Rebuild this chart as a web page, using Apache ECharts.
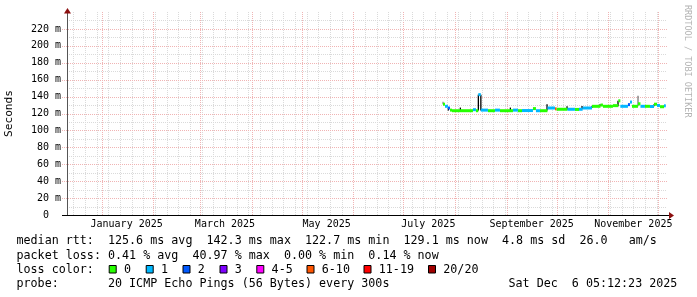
<!DOCTYPE html>
<html><head><meta charset="utf-8">
<script src="https://cdn.jsdelivr.net/npm/echarts@6/dist/echarts.min.js"></script>
<style>html,body{margin:0;padding:0;background:#fff}#c{width:697px;height:297px}</style>
</head><body><div id="c"></div>
<script>
// ---------- data ----------
// median rtt (ms) as steps: start time of each step, value, loss class index
const segStart = [
 '2025-07-24 19:00','2025-07-26 00:00','2025-07-27 19:00','2025-07-29 00:00','2025-07-30 05:00',
 '2025-08-11 19:00','2025-08-13 14:00','2025-08-15 00:00','2025-08-16 12:00','2025-08-20 19:00',
 '2025-08-25 00:00','2025-08-28 00:00','2025-09-04 19:00','2025-09-07 19:00','2025-09-10 05:00',
 '2025-09-16 19:00','2025-09-18 14:00','2025-09-21 00:00','2025-09-25 12:00','2025-09-30 00:00',
 '2025-10-01 00:00','2025-10-07 12:00','2025-10-12 00:00','2025-10-14 10:00','2025-10-16 14:00',
 '2025-10-22 05:00','2025-10-27 07:00','2025-10-28 19:00','2025-11-03 19:00','2025-11-07 00:00',
 '2025-11-08 05:00','2025-11-12 19:00','2025-11-14 00:00','2025-11-15 05:00','2025-11-18 19:00',
 '2025-11-20 07:00','2025-11-23 00:00','2025-11-26 00:00','2025-11-28 10:00','2025-11-30 05:00',
 '2025-12-02 00:00','2025-12-04 10:00'
];
const segEnd = '2025-12-05 12:00';
const segMedian = [
 131, 128.5, 126.5, 124, 123.3,
 124.5, 123.3, 142.3, 124, 123.3,
 124, 123.3, 124, 123.3, 123.5,
 125.8, 123.3, 123.3, 126.5, 125.5,
 125, 125, 124.8, 125, 126.5,
 128.5, 130, 128.5, 129.3, 135,
 128.5, 130.5, 133.5, 128.5, 131.5,
 128.5, 128.5, 128.3, 131, 129.5,
 128, 129.1
];
const segLoss = [
 0,1,2,0,0,
 1,0,1,1,0,
 1,0,1,0,1,
 0,1,0,1,5,
 0,1,0,1,1,
 0,0,0,0,0,
 1,2,1,0,0,
 1,0,1,0,1,
 0,1
];
// smoke (ping spread) spikes
const smokeTime = ['2025-07-24 19:00','2025-07-28 00:00','2025-08-04 05:00','2025-08-15 00:00','2025-08-16 12:00',
 '2025-09-03 05:00','2025-09-25 05:00','2025-10-07 05:00','2025-10-16 05:00','2025-10-22 05:00',
 '2025-10-27 00:00','2025-11-06 19:00','2025-11-18 19:00','2025-11-28 10:00'];
const smokeLow  = [131, 123.5, 123.3, 123.5, 123.5, 123.3, 123.5, 124.5, 125, 126.5, 128.5, 128.5, 128.5, 128.5];
const smokeHigh = [134, 126.5, 127, 142.3, 142.3, 127, 131, 128.5, 129, 129, 131, 135, 141, 131];
const smokeDensity = [0.3, 1, 1, 1, 1, 1, 1, 1, 1, 1, 1, 1, 0.4, 1];

const lossLabels = ['0','1','2','3','4-5','6-10','11-19','20/20'];
const lossColors = ['#26ff00','#00b8ff','#0059ff','#7e00ff','#ff00ff','#ff5500','#ff0000','#a00000'];

const monthLabels = ['January 2025','March 2025','May 2025','July 2025','September 2025','November 2025'];
const monthLabelDates = ['2025-01-01','2025-03-01','2025-05-01','2025-07-01','2025-09-01','2025-11-01'];

const statLines = [
 'median rtt:  125.6 ms avg  142.3 ms max  122.7 ms min  129.1 ms now  4.8 ms sd  26.0   am/s',
 'packet loss: 0.41 % avg  40.97 % max  0.00 % min  0.14 % now',
 'loss color:',
 'probe:       20 ICMP Echo Pings (56 Bytes) every 300s'
];
const stampText = 'Sat Dec  6 05:12:23 2025';
const yAxisTitle = 'Seconds';
const watermark = 'RRDTOOL / TOBI OETIKER';

// ---------- build ----------
const P = s => { const [d, t = '00:00'] = s.split(' '); const [Y, M, D] = d.split('-').map(Number); const [h, m] = t.split(':').map(Number); return Date.UTC(Y, M - 1, D, h, m); };
const DAY = 86400000;
const END = Date.UTC(2025, 11, 6, 5, 12, 23);
const START = END - 360 * DAY;
const YMAX = 240;
const MONO = '"DejaVu Sans Mono", monospace';
const GRID_GREY = '#dadada', GRID_RED = '#f0b4b4', ARROW = '#8c1010';

const gridData = [];
let t = Date.UTC(2024, 11, 15); // first Sunday in range
for (; t < END; t += 7 * DAY) gridData.push([t, 0, 0]);
for (let m = 0; m < 12; m++) gridData.push([Date.UTC(2025, m, 1), 0, 1]);
for (let v = 10; v < YMAX; v += 10) gridData.push([START, v, v % 20 === 0 ? 3 : 2]);

const medData = segStart.map((s, i) => [P(s), P(i + 1 < segStart.length ? segStart[i + 1] : segEnd), segMedian[i], segLoss[i]]);
const smokeData = smokeTime.map((s, i) => [P(s), smokeLow[i], smokeHigh[i], smokeDensity[i]]);
const labelData = monthLabelDates.map((d, i) => [P(d) + 15 * DAY, 0, i]);

const chart = echarts.init(document.getElementById('c'), null, { renderer: 'canvas' });

const graphic = [];
// axis extensions + arrows
graphic.push({ type: 'line', shape: { x1: 62, y1: 215.5, x2: 670, y2: 215.5 }, style: { stroke: '#000', lineWidth: 1 }, z: 50 });
graphic.push({ type: 'polygon', shape: { points: [[669, 212], [674, 215.5], [669, 219]] }, style: { fill: ARROW }, z: 51 });
graphic.push({ type: 'line', shape: { x1: 67.5, y1: 215, x2: 67.5, y2: 12 }, style: { stroke: '#555', lineWidth: 1 }, z: 50 });
graphic.push({ type: 'polygon', shape: { points: [[64, 13.5], [67.5, 8], [71, 13.5]] }, style: { fill: ARROW }, z: 51 });
// watermark
graphic.push({ type: 'text', x: 687, y: 5, rotation: -Math.PI / 2, style: { text: watermark, font: '8.5px ' + MONO, fill: '#b4b4b4', align: 'left', verticalAlign: 'middle' } });
// stats text
const lineY = [241, 255.5, 269.5, 283.5];
statLines.forEach((s, i) => graphic.push({ type: 'text', x: 16.5, y: lineY[i], style: { text: s, font: '11.7px ' + MONO, fill: '#000', verticalAlign: 'middle' } }));
graphic.push({ type: 'text', x: 508.5, y: lineY[3], style: { text: stampText, font: '11.7px ' + MONO, fill: '#000', verticalAlign: 'middle' } });
const boxX = [108.7, 145.7, 182.5, 219.5, 256.3, 306.5, 363.5, 428];
lossLabels.forEach((l, i) => {
  graphic.push({ type: 'rect', shape: { x: boxX[i] + 0.5, y: 265.5, width: 7, height: 7.5 }, style: { fill: lossColors[i], stroke: '#000', lineWidth: 1 } });
  graphic.push({ type: 'text', x: boxX[i] + 15.3, y: lineY[2], style: { text: l, font: '11.7px ' + MONO, fill: '#000', verticalAlign: 'middle' } });
});

chart.setOption({
  animation: false,
  backgroundColor: '#fff',
  grid: { left: 67, right: 30, top: 12, bottom: 82, containLabel: false, outerBoundsMode: 'none' },
  xAxis: { type: 'time', min: START, max: END, axisLine: { show: false }, axisTick: { show: false }, axisLabel: { show: false }, splitLine: { show: false } },
  yAxis: {
    type: 'value', min: 0, max: YMAX, interval: 20,
    name: yAxisTitle, nameLocation: 'middle', nameGap: 52,
    nameTextStyle: { fontFamily: MONO, fontSize: 11.2, color: '#000' },
    axisLine: { show: false }, axisTick: { show: false }, splitLine: { show: false },
    axisLabel: { margin: 6, fontFamily: MONO, fontSize: 10, color: '#000',
      formatter: v => v >= YMAX ? '' : (v === 0 ? '0  ' : v + ' m') }
  },
  graphic: graphic,
  series: [
    { type: 'custom', name: 'grid', data: gridData, clip: false, silent: true, z: 1,
      encode: { x: 0, y: 1 },
      renderItem: (params, api) => {
        const kind = api.value(2);
        if (kind < 2) {
          const tt = api.value(0);
          const a = api.coord([tt, 0]), b = api.coord([tt, YMAX]);
          const x = Math.round(a[0]) + 0.5;
          return { type: 'line', shape: { x1: x, y1: a[1], x2: x, y2: b[1] }, style: { stroke: kind ? GRID_RED : GRID_GREY, lineWidth: 1, lineDash: [1, 1] } };
        }
        const v = api.value(1);
        const a = api.coord([START, v]), b = api.coord([END, v]);
        const y = Math.round(a[1]) + 0.5;
        return { type: 'line', shape: { x1: a[0] - (kind === 3 ? 5 : 0), y1: y, x2: b[0], y2: y }, style: { stroke: kind === 3 ? GRID_RED : GRID_GREY, lineWidth: 1, lineDash: [1, 1] } };
      } },
    { type: 'custom', name: 'smoke', data: smokeData, clip: false, z: 3,
      encode: { x: 0, y: [1, 2] },
      renderItem: (params, api) => {
        const lo = api.coord([api.value(0), api.value(1)]);
        const hi = api.coord([api.value(0), api.value(2)]);
        const g = Math.round(200 * (1 - api.value(3)));
        return { type: 'rect', shape: { x: lo[0] - 0.6, y: hi[1], width: 1.3, height: lo[1] - hi[1] }, style: { fill: `rgb(${g},${g},${g})` } };
      } },
    { type: 'custom', name: 'median rtt', data: medData, clip: false, z: 4,
      encode: { x: [0, 1], y: 2 },
      renderItem: (params, api) => {
        const a = api.coord([api.value(0), api.value(2)]);
        const b = api.coord([api.value(1), api.value(2)]);
        return { type: 'rect', shape: { x: a[0], y: a[1] - 1.5, width: b[0] - a[0], height: 3 }, style: { fill: lossColors[api.value(3)] } };
      } },
    { type: 'custom', name: 'month labels', data: labelData, clip: false, silent: true, z: 5,
      encode: { x: 0, y: 1 },
      renderItem: (params, api) => {
        const p = api.coord([api.value(0), 0]);
        return { type: 'text', x: p[0], y: p[1] + 9.5, style: { text: monthLabels[api.value(2)], font: '10px ' + MONO, fill: '#000', align: 'center', verticalAlign: 'middle' } };
      } }
  ]
});
</script></body></html>
